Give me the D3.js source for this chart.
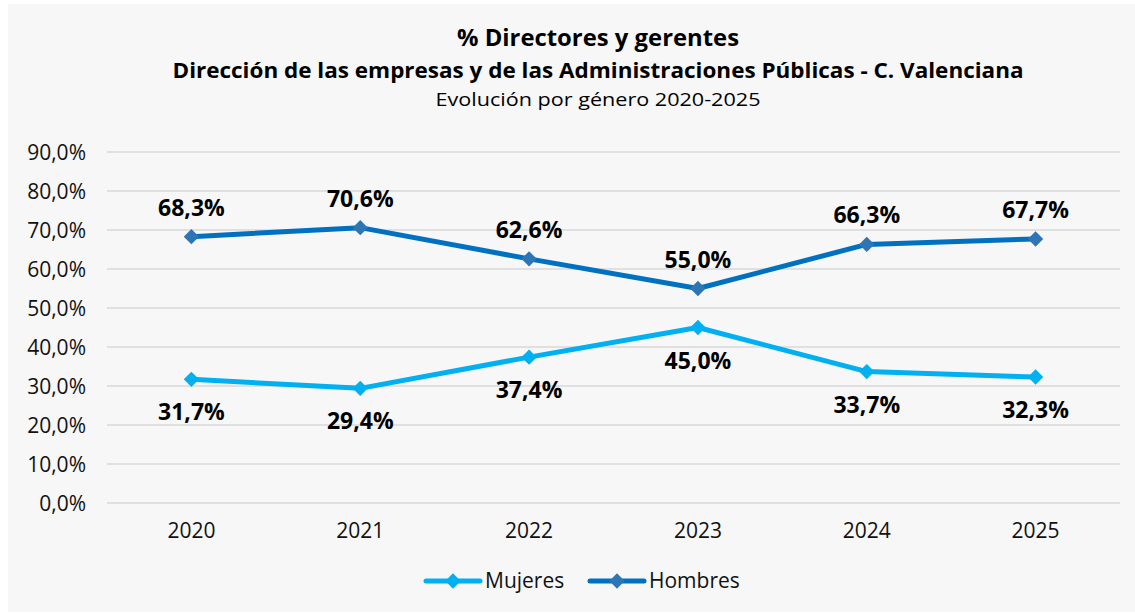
<!DOCTYPE html>
<html>
<head>
<meta charset="utf-8">
<script src="https://cdn.jsdelivr.net/npm/d3@7"></script>
<style>
  body { margin: 0; background: #fff; }
  svg { display: block; }
</style>
</head>
<body>
<svg width="1135" height="614"></svg>
<script>
let years = ['2020', '2021', '2022', '2023', '2024', '2025'];
let mujeres = [31.7, 29.4, 37.4, 45.0, 33.7, 32.3];
let hombres = [68.3, 70.6, 62.6, 55.0, 66.3, 67.7];
let yTicks = [0, 10, 20, 30, 40, 50, 60, 70, 80, 90];

let svg = d3.select('svg');
let width = +svg.attr('width');
let height = +svg.attr('height');
let margin = { top: 152, right: 15, bottom: 111, left: 107 };

let font = "'Open Sans', 'Noto Sans', sans-serif";
let titleFont = "'Open Sans', sans-serif";

svg.append('rect')
    .attr('x', 8).attr('y', 4)
    .attr('width', width - 8).attr('height', height - 6)
    .attr('fill', '#f7f7f7');

let x = d3.scaleBand()
    .domain(years)
    .range([margin.left, width - margin.right]);

let y = d3.scaleLinear()
    .domain([0, 90])
    .range([height - margin.bottom, margin.top]);

let fmt = v => d3.format('.1f')(v).replace('.', ',') + '%';

// grid
svg.append('g')
    .selectAll('line')
    .data(yTicks)
    .enter().append('line')
    .attr('x1', margin.left)
    .attr('x2', width - margin.right)
    .attr('y1', d => y(d))
    .attr('y2', d => y(d))
    .attr('stroke', '#d9d9d9')
    .attr('stroke-width', 1.5);

// y axis
let yAxis = svg.append('g')
    .attr('transform', 'translate(' + (margin.left - 21) + ',0)')
    .call(d3.axisLeft(y).tickValues(yTicks).tickSize(0).tickFormat(fmt));
yAxis.select('.domain').remove();
yAxis.selectAll('text')
    .attr('x', 0)
    .attr('font-family', font)
    .attr('font-size', '21px')
    .attr('fill', '#111')
    .attr('dy', '0.35em');

// x axis
let xAxis = svg.append('g')
    .attr('transform', 'translate(0,' + (height - margin.bottom) + ')')
    .call(d3.axisBottom(x).tickSize(0));
xAxis.select('.domain').remove();
xAxis.selectAll('text')
    .attr('y', 35)
    .attr('dy', 0)
    .attr('font-family', font)
    .attr('font-size', '21px')
    .attr('fill', '#111');

let cx = d => x(d) + x.bandwidth() / 2;

let series = [
    { name: 'Mujeres', values: mujeres, color: '#00b0f0', marker: '#00b0f0', below: true },
    { name: 'Hombres', values: hombres, color: '#0070c0', marker: '#2e75b6', below: false }
];

let line = d3.line()
    .x((d, i) => cx(years[i]))
    .y(d => y(d));

let diamond = d3.symbol().type(d3.symbolDiamond2).size(150);

series.forEach(s => {
    let g = svg.append('g');
    g.append('path')
        .datum(s.values)
        .attr('d', line)
        .attr('fill', 'none')
        .attr('stroke', s.color)
        .attr('stroke-width', 5)
        .attr('stroke-linejoin', 'round')
        .attr('stroke-linecap', 'round');
    g.selectAll('path.m')
        .data(s.values)
        .enter().append('path')
        .attr('class', 'm')
        .attr('d', diamond)
        .attr('transform', (d, i) => 'translate(' + cx(years[i]) + ',' + y(d) + ')')
        .attr('fill', s.marker);
    g.selectAll('text')
        .data(s.values)
        .enter().append('text')
        .attr('x', (d, i) => cx(years[i]))
        .attr('y', d => y(d) + (s.below ? 41 : -21))
        .attr('text-anchor', 'middle')
        .attr('font-family', font)
        .attr('font-weight', 'bold')
        .attr('font-size', '23px')
        .attr('fill', '#000')
        .text(fmt);
});

// titles (condensed look via textLength)
let titles = [
    { t: '% Directores y gerentes', y: 46, w: 282, bold: true, size: 23 },
    { t: 'Dirección de las empresas y de las Administraciones Públicas - C. Valenciana', y: 78, w: 851, bold: true, size: 22 },
    { t: 'Evolución por género 2020-2025', y: 106, w: 325, bold: false, size: 19 }
];
titles.forEach(o => {
    svg.append('text')
        .attr('x', 598 - o.w / 2).attr('y', o.y)
        .attr('font-family', titleFont)
        .attr('font-weight', o.bold ? 'bold' : 'normal')
        .attr('font-size', o.size + 'px')
        .attr('textLength', o.w)
        .attr('lengthAdjust', 'spacingAndGlyphs')
        .attr('fill', '#000')
        .text(o.t);
});

// legend
let legend = svg.append('g').attr('transform', 'translate(426,581)');
let lx = [0, 164];
series.forEach((s, i) => {
    let g = legend.append('g').attr('transform', 'translate(' + lx[i] + ',0)');
    g.append('line')
        .attr('x1', 0).attr('x2', 54)
        .attr('stroke', s.color)
        .attr('stroke-width', 5)
        .attr('stroke-linecap', 'round');
    g.append('path')
        .attr('d', diamond)
        .attr('transform', 'translate(27,0)')
        .attr('fill', s.marker);
    g.append('text')
        .attr('x', 59).attr('y', 0)
        .attr('dy', '0.35em')
        .attr('font-family', font)
        .attr('font-size', '21px')
        .attr('fill', '#111')
        .text(s.name);
});
</script>
</body>
</html>
